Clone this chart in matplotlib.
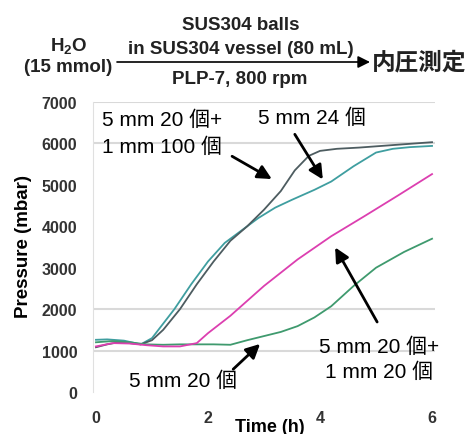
import numpy as np
import matplotlib
matplotlib.use('Agg')
import matplotlib.pyplot as plt

plt.rcParams['font.family'] = ['Liberation Sans', 'Noto Sans CJK JP']
plt.rcParams['mathtext.fontset'] = 'custom'
plt.rcParams['mathtext.bf'] = 'Liberation Sans:bold'
plt.rcParams['mathtext.rm'] = 'Liberation Sans'

# 5 mm 20個 + 1 mm 100個 (dark)
t_a = [0, 0.2, 0.4, 0.6, 0.8, 1.0, 1.2, 1.5, 1.8, 2.1, 2.4, 2.7, 3.0, 3.3, 3.55, 3.8, 4.0, 4.3, 4.7, 5.0, 5.5, 6.0]
p_a = [1080, 1150, 1200, 1180, 1150, 1250, 1500, 2000, 2600, 3150, 3650, 4000, 4400, 4850, 5350, 5700, 5820, 5870, 5900, 5930, 5980, 6030]
# 5 mm 24個 (teal)
t_b = [0, 0.2, 0.5, 0.8, 1.0, 1.2, 1.4, 1.7, 2.0, 2.3, 2.6, 2.9, 3.2, 3.5, 3.9, 4.2, 4.6, 5.0, 5.3, 5.6, 6.0]
p_b = [1260, 1270, 1240, 1150, 1300, 1650, 2000, 2600, 3150, 3600, 3900, 4200, 4450, 4640, 4880, 5080, 5450, 5780, 5870, 5910, 5940]
# 5 mm 20個 + 1 mm 20個 (pink)
t_c = [0, 0.3, 0.6, 0.9, 1.2, 1.5, 1.8, 2.0, 2.4, 3.0, 3.6, 4.2, 4.8, 5.4, 6.0]
p_c = [1100, 1180, 1170, 1130, 1100, 1100, 1180, 1420, 1840, 2560, 3200, 3760, 4250, 4750, 5260]
# 5 mm 20個 (green)
t_d = [0, 0.3, 0.6, 0.9, 1.2, 1.5, 1.8, 2.1, 2.4, 2.7, 3.0, 3.3, 3.6, 3.9, 4.2, 4.6, 5.0, 5.5, 6.0]
p_d = [1200, 1230, 1200, 1150, 1140, 1150, 1150, 1150, 1140, 1250, 1350, 1450, 1590, 1800, 2070, 2560, 3000, 3380, 3700]

xticks = [0, 2, 4, 6]
yticks = [0, 1000, 2000, 3000, 4000, 5000, 6000, 7000]
grid_y = [1000, 2000, 6000, 7000]

W, H = 467, 435
fig = plt.figure(figsize=(W/100, H/100), dpi=100)
ax = fig.add_axes([92.6/W, 1-393/H, 342.8/W, 290/H])

def fx(px):
    return px / W
def fy(py):
    return 1 - py / H

for g in grid_y:
    ax.axhline(g, color='#d9d9d9', lw=1.5, zorder=0)

ax.plot(t_b, p_b, color='#3f9ea0', lw=1.3)
ax.plot(t_a, p_a, color='#4d5c60', lw=1.3)
ax.plot(t_d, p_d, color='#3f9a6e', lw=1.3)
ax.plot(t_c, p_c, color='#dc3fb0', lw=1.3)

ax.set_xlim(-0.06, 6.06)
ax.set_ylim(0, 7000)
ax.set_xticks(xticks)
ax.set_yticks(yticks)
ax.tick_params(length=0, labelsize=11.5, labelcolor='#333333')
ax.tick_params(axis='y', pad=11)
ax.tick_params(axis='x', pad=13)
for lab in ax.get_xticklabels() + ax.get_yticklabels():
    lab.set_fontweight('bold')
for s in ['top', 'right', 'bottom']:
    ax.spines[s].set_visible(False)
ax.spines['left'].set_color('#e0e0e0')

fig.text(fx(270), fy(428), 'Time (h)', ha='center', va='center', fontsize=13, fontweight='bold')
fig.text(fx(24), fy(247), 'Pressure (mbar)', ha='center', va='center', rotation=90, fontsize=13.5, fontweight='bold')

# annotations
fs = 15
ax.text(0.107, 6580, '5 mm 20 個+', ha='left', va='center', fontsize=fs)
ax.text(0.107, 5930, '1 mm 100 個', ha='left', va='center', fontsize=fs)
ax.text(2.89, 6630, '5 mm 24 個', ha='left', va='center', fontsize=fs)
ax.text(5.05, 1110, '5 mm 20 個+', ha='center', va='center', fontsize=fs)
ax.text(5.05, 506, '1 mm 20 個', ha='center', va='center', fontsize=fs)
ax.text(1.545, 290, '5 mm 20 個', ha='center', va='center', fontsize=fs)

arr = dict(arrowstyle='-|>', color='black', lw=2, mutation_scale=21, shrinkA=0, shrinkB=0)
ax.annotate('', xy=(3.14, 5140), xytext=(2.43, 5690), arrowprops=arr)
ax.annotate('', xy=(4.05, 5130), xytext=(3.55, 6220), arrowprops=arr)
ax.annotate('', xy=(4.27, 3490), xytext=(5.02, 1690), arrowprops=arr)
ax.annotate('', xy=(2.93, 1160), xytext=(2.45, 550), arrowprops=arr)

# reaction scheme header
hfs = 13.5
hc = '#222222'
fig.text(fx(69), fy(47), r'H$_\mathbf{2}$O', ha='center', va='center', fontsize=hfs, fontweight='bold', color=hc)
fig.text(fx(68), fy(67), '(15 mmol)', ha='center', va='center', fontsize=hfs, fontweight='bold', color=hc)
fig.text(fx(241), fy(25), 'SUS304 balls', ha='center', va='center', fontsize=hfs, fontweight='bold', color=hc)
fig.text(fx(241), fy(50), 'in SUS304 vessel (80 mL)', ha='center', va='center', fontsize=hfs, fontweight='bold', color=hc)
fig.text(fx(240), fy(79), 'PLP-7, 800 rpm', ha='center', va='center', fontsize=hfs, fontweight='bold', color=hc)
fig.text(fx(419), fy(63), '内圧測定', ha='center', va='center', fontsize=17, fontweight='bold', color=hc)
fig.patches.append(matplotlib.patches.FancyArrowPatch(
    (fx(117), fy(63)), (fx(370), fy(63)), transform=fig.transFigure,
    arrowstyle='-|>', mutation_scale=18, lw=1.2, color='black', shrinkA=0, shrinkB=0))

fig.savefig('out.png', dpi=100)
